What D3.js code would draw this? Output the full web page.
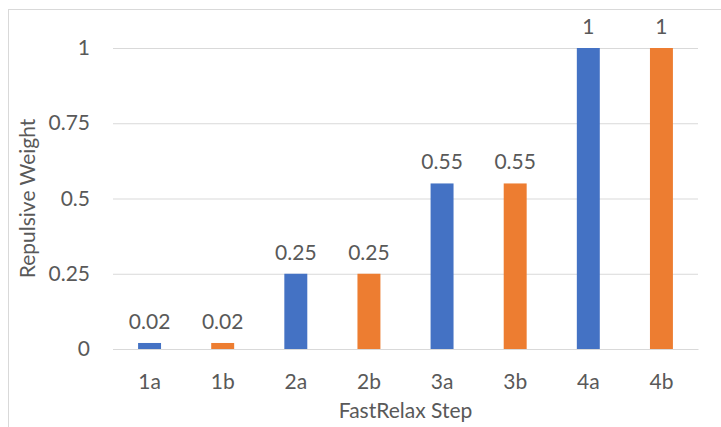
<!DOCTYPE html>
<html>
<head>
<meta charset="utf-8">
<script src="https://cdn.jsdelivr.net/npm/d3@7"></script>
<style>
  html, body { margin: 0; padding: 0; background: #fff; }
  svg { display: block; }
  text { font-family: Lato, "Open Sans", sans-serif; fill: #595959; }
</style>
</head>
<body>
<svg id="chart" width="721" height="427"></svg>
<script>
// FastRelax repulsive-weight schedule
const steps = ["1a", "1b", "2a", "2b", "3a", "3b", "4a", "4b"];
const weights = [0.02, 0.02, 0.25, 0.25, 0.55, 0.55, 1, 1];
const stepColors = ["#4472C4", "#ED7D31", "#4472C4", "#ED7D31", "#4472C4", "#ED7D31", "#4472C4", "#ED7D31"];
const yTicks = [0, 0.25, 0.5, 0.75, 1];

const W = 721, H = 427;
const FS = 21;
const margin = { left: 113, right: 23, top: 48, bottom: 78 };
const svg = d3.select("#chart");

// chart frame
svg.append("rect")
  .attr("x", 8.5).attr("y", 9.5)
  .attr("width", W + 10).attr("height", H + 10)
  .attr("fill", "none").attr("stroke", "#D9D9D9").attr("stroke-width", 1);

const x = d3.scaleBand()
  .domain(steps)
  .range([margin.left, W - margin.right])
  .paddingInner(0.686).paddingOuter(0.343);

const y = d3.scaleLinear()
  .domain([0, 1])
  .range([H - margin.bottom, margin.top]);

// gridlines and value ticks
const yAxis = d3.axisLeft(y)
  .tickValues(yTicks)
  .tickFormat(d => d3.format("~g")(d))
  .tickSize(-(W - margin.left - margin.right))
  .tickPadding(23);

const gy = svg.append("g")
  .attr("transform", `translate(${margin.left},0)`)
  .call(yAxis);
gy.select(".domain").remove();
gy.selectAll(".tick line").attr("stroke", "#D9D9D9").attr("stroke-width", 1);
gy.selectAll(".tick text")
  .attr("font-size", FS)
  .style("font-family", "Lato, sans-serif")
  .attr("fill", "#595959");

// bars
svg.append("g").selectAll("rect")
  .data(steps)
  .join("rect")
  .attr("x", d => x(d))
  .attr("width", x.bandwidth())
  .attr("y", (d, i) => y(weights[i]))
  .attr("height", (d, i) => y(0) - y(weights[i]))
  .attr("fill", (d, i) => stepColors[i]);

// value labels
svg.append("g").selectAll("text")
  .data(steps)
  .join("text")
  .attr("x", d => x(d) + x.bandwidth() / 2)
  .attr("y", (d, i) => y(weights[i]) - 14)
  .attr("text-anchor", "middle")
  .attr("font-size", FS)
  .text((d, i) => d3.format("~g")(weights[i]));

// category axis
const xAxis = d3.axisBottom(x).tickSize(0).tickPadding(25);
const gx = svg.append("g")
  .attr("transform", `translate(0,${y(0)})`)
  .call(xAxis);
gx.select(".domain").attr("stroke", "#D9D9D9");
gx.selectAll(".tick text")
  .attr("font-size", FS)
  .style("font-family", "Lato, sans-serif")
  .attr("fill", "#595959");

// axis titles
svg.append("text")
  .attr("x", (margin.left + W - margin.right) / 2)
  .attr("y", 418)
  .attr("text-anchor", "middle")
  .attr("font-size", FS)
  .text("FastRelax Step");

svg.append("text")
  .attr("transform", `translate(35,${(y(0) + y(1)) / 2}) rotate(-90)`)
  .attr("text-anchor", "middle")
  .attr("font-size", FS)
  .text("Repulsive Weight");
</script>
</body>
</html>
